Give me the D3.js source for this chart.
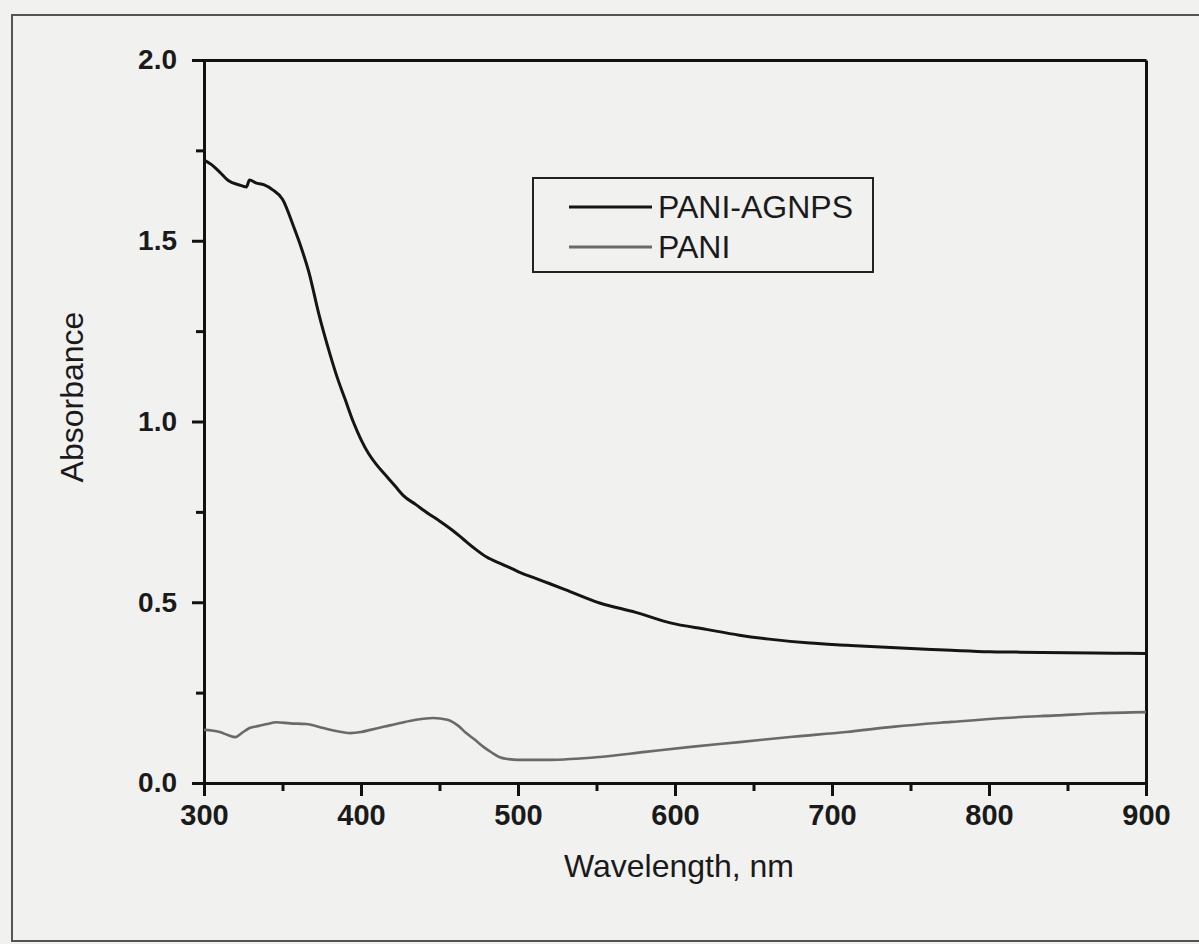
<!DOCTYPE html>
<html>
<head>
<meta charset="utf-8">
<script src="https://cdn.jsdelivr.net/npm/d3@7"></script>
<style>
  html, body { margin: 0; padding: 0; background: #f1f1f0; }
  svg { display: block; }
  text { font-family: "Liberation Sans", Arial, Helvetica, sans-serif; fill: #1a1a1a; }
</style>
</head>
<body>
<svg id="chart" width="1199" height="944"></svg>
<script>
// ---- data ----
const agnpsWavelength = [300,305,310,316,322,327,329,333,338,344,350,357,362,367,373,380,385,390,395,400,405,410,416,422,427,435,443,450,458,465,472,480,490,500,515,530,552,575,597,620,641,660,686,710,731,760,776,800,820,850,880,900];
const agnpsAbsorbance = [1.723,1.71,1.69,1.665,1.655,1.649,1.668,1.66,1.655,1.64,1.615,1.54,1.48,1.41,1.30,1.19,1.12,1.06,1.00,0.95,0.91,0.88,0.85,0.82,0.795,0.77,0.745,0.725,0.70,0.675,0.65,0.625,0.605,0.585,0.56,0.535,0.498,0.472,0.443,0.425,0.409,0.398,0.387,0.381,0.376,0.370,0.367,0.363,0.362,0.360,0.359,0.358];

const paniWavelength = [300,305,310,315,320,324,329,335,340,346,355,365,376,385,393,400,406,415,425,435,446,455,462,467,473,478,483,488,494,500,520,552,581,610,641,675,709,740,776,810,843,870,900];
const paniAbsorbance = [0.147,0.145,0.141,0.133,0.127,0.138,0.152,0.158,0.163,0.168,0.165,0.163,0.152,0.143,0.138,0.141,0.147,0.156,0.166,0.175,0.180,0.175,0.158,0.138,0.118,0.100,0.085,0.072,0.066,0.064,0.064,0.072,0.086,0.100,0.113,0.128,0.141,0.156,0.169,0.180,0.187,0.193,0.196];

const xMajorTicks = [300,400,500,600,700,800,900];
const xMinorTicks = [350,450,550,650,750,850];
const yMajorTicks = [0.0,0.5,1.0,1.5,2.0];
const yMinorTicks = [0.25,0.75,1.25,1.75];
const seriesNames = ["PANI-AGNPS","PANI"];
const xTitle = "Wavelength, nm";
const yTitle = "Absorbance";

// ---- layout ----
const svg = d3.select("#chart");
const L = 204, R = 1146, T = 60, B = 783;

const x = d3.scaleLinear().domain([300, 900]).range([L, R]);
const y = d3.scaleLinear().domain([0, 2.0]).range([B, T]);

// outer scan frame
svg.append("rect")
  .attr("x", 12).attr("y", 15).attr("width", 1200).attr("height", 926)
  .attr("fill", "none").attr("stroke", "#555").attr("stroke-width", 2);

const axisStroke = g => {
  g.select(".domain").attr("stroke", "#111").attr("stroke-width", 3);
  g.selectAll(".tick line").attr("stroke", "#111").attr("stroke-width", 3);
};

// x axis
const gx = svg.append("g").attr("transform", `translate(0,${B})`)
  .call(d3.axisBottom(x).tickValues(xMajorTicks).tickSize(13).tickPadding(8).tickFormat(d3.format("d")))
  .call(axisStroke);
gx.selectAll("text").attr("font-size", 29).attr("font-weight", "bold");
svg.append("g").attr("transform", `translate(0,${B})`)
  .call(d3.axisBottom(x).tickValues(xMinorTicks).tickSize(8).tickFormat(""))
  .call(axisStroke).select(".domain").remove();

// y axis
const gy = svg.append("g").attr("transform", `translate(${L},0)`)
  .call(d3.axisLeft(y).tickValues(yMajorTicks).tickSize(12).tickPadding(15).tickFormat(d3.format(".1f")))
  .call(axisStroke);
gy.selectAll("text").attr("font-size", 28).attr("font-weight", "bold");
svg.append("g").attr("transform", `translate(${L},0)`)
  .call(d3.axisLeft(y).tickValues(yMinorTicks).tickSize(8).tickFormat(""))
  .call(axisStroke).select(".domain").remove();

// top and right frame
svg.append("g").attr("transform", `translate(0,${T})`)
  .call(d3.axisTop(x).tickValues([]).tickSizeOuter(0)).call(axisStroke);
svg.append("g").attr("transform", `translate(${R},0)`)
  .call(d3.axisRight(y).tickValues([]).tickSizeOuter(0)).call(axisStroke);

// lines
const line = d3.line().x(d => x(d[0])).y(d => y(d[1])).curve(d3.curveMonotoneX);
svg.append("path")
  .datum(paniWavelength.map((w, i) => [w, paniAbsorbance[i]]))
  .attr("d", line).attr("fill", "none").attr("stroke", "#6a6a6a").attr("stroke-width", 2.6);
svg.append("path")
  .datum(agnpsWavelength.map((w, i) => [w, agnpsAbsorbance[i]]))
  .attr("d", line).attr("fill", "none").attr("stroke", "#151515").attr("stroke-width", 3);

// axis titles
svg.append("text").attr("x", 679).attr("y", 877).attr("text-anchor", "middle")
  .attr("font-size", 32).text(xTitle);
svg.append("text").attr("transform", "translate(83,397) rotate(-90)").attr("text-anchor", "middle")
  .attr("font-size", 32).text(yTitle);

// legend
const lg = svg.append("g");
lg.append("rect").attr("x", 533).attr("y", 178).attr("width", 340).attr("height", 94)
  .attr("fill", "none").attr("stroke", "#222").attr("stroke-width", 2);
const legendColors = ["#151515", "#6a6a6a"];
const legendY = [207, 247];
seriesNames.forEach((name, i) => {
  lg.append("line").attr("x1", 569).attr("x2", 652).attr("y1", legendY[i]).attr("y2", legendY[i])
    .attr("stroke", legendColors[i]).attr("stroke-width", 3);
  lg.append("text").attr("x", 658).attr("y", legendY[i] + 11).attr("font-size", 32).text(name);
});
</script>
</body>
</html>
